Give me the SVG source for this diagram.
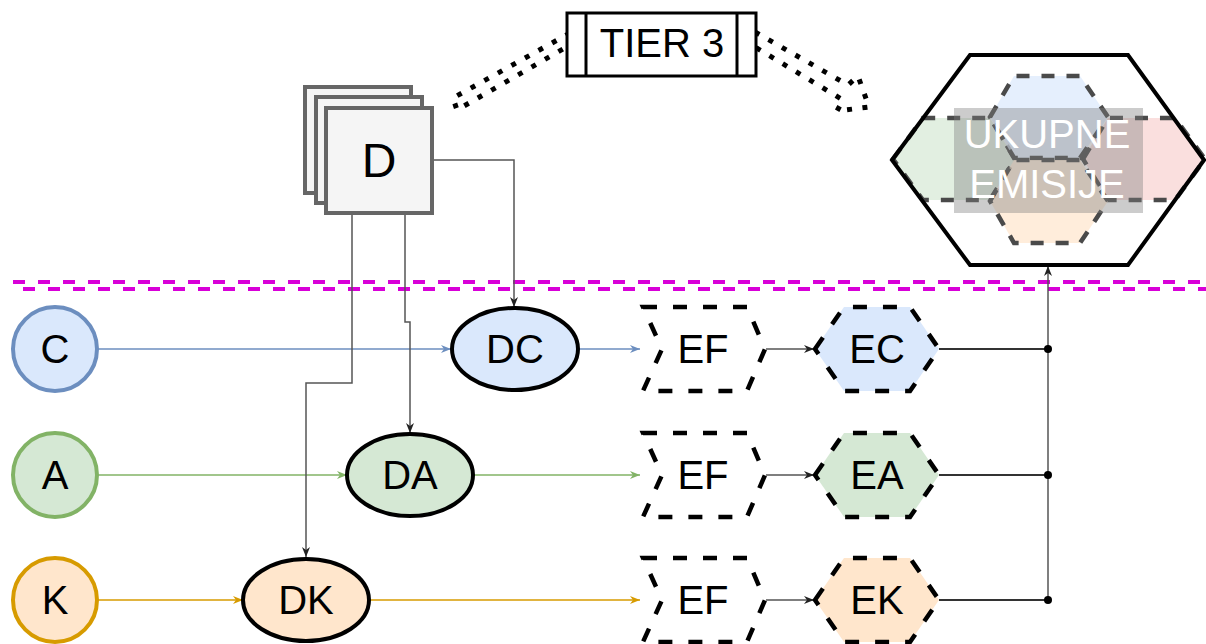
<svg xmlns="http://www.w3.org/2000/svg" width="1206" height="644" viewBox="0 0 1206 644">
<defs>
<style>
text{font-family:"Liberation Sans",Arial,sans-serif;font-size:40px;text-anchor:middle;fill:#000}
.src{stroke-width:4}
.ell{stroke:#000;stroke-width:4}
.dash{fill:none;stroke:#000;stroke-width:4.5;stroke-dasharray:14 16}
.hex{stroke:#000;stroke-width:4.5;stroke-dasharray:14 16}
.ihex{stroke:#4a4a4a;stroke-width:4.5;stroke-dasharray:13 12}
.mag{stroke:#d800d8;stroke-width:4;stroke-dasharray:12 13;fill:none}
.dot{fill:none;stroke:#000;stroke-width:5;stroke-dasharray:5 10.5}
.gc{fill:none;stroke:#555;stroke-width:1.5}
.dk{fill:none;stroke:#333;stroke-width:2}
</style>
<marker id="mb" viewBox="0 0 10 10" refX="10" refY="5" markerWidth="10" markerHeight="10" markerUnits="userSpaceOnUse" orient="auto"><path d="M0,1 L10,5 L0,9 L3,5 z" fill="#6c8ebf"/></marker>
<marker id="mg" viewBox="0 0 10 10" refX="10" refY="5" markerWidth="10" markerHeight="10" markerUnits="userSpaceOnUse" orient="auto"><path d="M0,1 L10,5 L0,9 L3,5 z" fill="#82b366"/></marker>
<marker id="mo" viewBox="0 0 10 10" refX="10" refY="5" markerWidth="10" markerHeight="10" markerUnits="userSpaceOnUse" orient="auto"><path d="M0,1 L10,5 L0,9 L3,5 z" fill="#d79b00"/></marker>
<marker id="mk" viewBox="0 0 10 10" refX="10" refY="5" markerWidth="10" markerHeight="10" markerUnits="userSpaceOnUse" orient="auto"><path d="M0,1 L10,5 L0,9 L3,5 z" fill="#222"/></marker>
</defs>

<g id="divider">
<line class="mag" x1="13" y1="282" x2="1206" y2="282"/>
<line class="mag" x1="23" y1="289" x2="1206" y2="289"/>
</g>

<g id="tier3-arrow">
<path class="dot" d="M570,33 L453,98 L457,110 L570,45"/>
<path class="dot" d="M755,32 L848,85 L858,76 L869,107 L837,111 L843,100 L755,47"/>
</g>

<g id="connectors">
<line x1="97" y1="349" x2="451" y2="349" stroke="#6c8ebf" stroke-width="1.5" marker-end="url(#mb)"/>
<line x1="579" y1="349" x2="640" y2="349" stroke="#6c8ebf" stroke-width="1.5" marker-end="url(#mb)"/>
<line x1="97" y1="475" x2="347" y2="475" stroke="#82b366" stroke-width="1.5" marker-end="url(#mg)"/>
<line x1="474" y1="475" x2="640" y2="475" stroke="#82b366" stroke-width="1.5" marker-end="url(#mg)"/>
<line x1="97" y1="600" x2="243" y2="600" stroke="#d79b00" stroke-width="1.5" marker-end="url(#mo)"/>
<line x1="370" y1="600" x2="640" y2="600" stroke="#d79b00" stroke-width="1.5" marker-end="url(#mo)"/>
<path class="gc" d="M432,160 H514 V307" marker-end="url(#mk)"/>
<path class="gc" d="M352,213 V383 H306 V557" marker-end="url(#mk)"/>
<path class="gc" d="M405,213 V322 H410 V433" marker-end="url(#mk)"/>
<line class="gc" x1="766" y1="349" x2="814" y2="349" marker-end="url(#mk)"/>
<line class="gc" x1="766" y1="475" x2="814" y2="475" marker-end="url(#mk)"/>
<line class="gc" x1="766" y1="600" x2="814" y2="600" marker-end="url(#mk)"/>
<line class="dk" x1="939" y1="349" x2="1048" y2="349"/>
<line class="dk" x1="939" y1="475" x2="1048" y2="475"/>
<line class="dk" x1="939" y1="600" x2="1048" y2="600"/>
<path class="gc" d="M1048,600 V266" marker-end="url(#mk)"/>
<circle cx="1048" cy="349" r="4" fill="#000"/>
<circle cx="1048" cy="475" r="4" fill="#000"/>
<circle cx="1048" cy="600" r="4" fill="#000"/>
</g>

<g id="tier3">
<rect x="567" y="13" width="189" height="63" fill="#fff" stroke="#000" stroke-width="3"/>
<line x1="586" y1="13" x2="586" y2="76" stroke="#000" stroke-width="3"/>
<line x1="737" y1="13" x2="737" y2="76" stroke="#000" stroke-width="3"/>
<text x="662" y="57">TIER 3</text>
</g>

<g id="D">
<rect x="305" y="87" width="106" height="106" fill="#f5f5f5" stroke="#666" stroke-width="4"/>
<rect x="316" y="97" width="106" height="106" fill="#f5f5f5" stroke="#666" stroke-width="4"/>
<rect x="326" y="108" width="106" height="105" fill="#f5f5f5" stroke="#666" stroke-width="4"/>
<text x="379" y="177" style="font-size:48px">D</text>
</g>

<g id="C"><ellipse class="src" cx="55" cy="349" rx="42" ry="42" fill="#dae8fc" stroke="#6c8ebf"/><text x="55" y="363">C</text></g>
<g id="A"><ellipse class="src" cx="55" cy="475" rx="42" ry="42" fill="#d5e8d4" stroke="#82b366"/><text x="55" y="489">A</text></g>
<g id="K"><ellipse class="src" cx="55" cy="600" rx="42" ry="42" fill="#ffe6cc" stroke="#d79b00"/><text x="55" y="614">K</text></g>

<g id="DC"><ellipse class="ell" cx="515" cy="349" rx="63" ry="41" fill="#dae8fc"/><text x="515" y="363">DC</text></g>
<g id="DA"><ellipse class="ell" cx="410" cy="475" rx="63" ry="41" fill="#d5e8d4"/><text x="410" y="489">DA</text></g>
<g id="DK"><ellipse class="ell" cx="306" cy="600" rx="63" ry="41" fill="#ffe6cc"/><text x="306" y="614">DK</text></g>

<g id="EF1"><path class="dash" d="M643,307 H747 L765,349 L747,391 H643 L662,349 Z" fill="#fff"/><text x="703" y="363">EF</text></g>
<g id="EF2"><path class="dash" d="M643,433 H747 L765,475 L747,517 H643 L662,475 Z" fill="#fff"/><text x="703" y="489">EF</text></g>
<g id="EF3"><path class="dash" d="M643,558 H747 L765,600 L747,642 H643 L662,600 Z" fill="#fff"/><text x="703" y="614">EF</text></g>

<g id="EC"><path class="hex" d="M815,349 L844,307 H910 L939,349 L910,391 H844 Z" fill="#dae8fc"/><text x="877" y="363">EC</text></g>
<g id="EA"><path class="hex" d="M815,475 L844,433 H910 L939,475 L910,517 H844 Z" fill="#d5e8d4"/><text x="877" y="489">EA</text></g>
<g id="EK"><path class="hex" d="M815,600 L844,558 H910 L939,600 L910,642 H844 Z" fill="#ffe6cc"/><text x="877" y="614">EK</text></g>

<g id="UKUPNE">
<path d="M892,160 L970,55 H1128 L1204,160 L1128,265 H970 Z" fill="#fff"/>
<path class="ihex" d="M893,159 L923,118 H990 L1015,159 L990,200 H923 Z" fill="#d5e8d4" fill-opacity="0.7"/>
<path class="ihex" d="M1083,159 L1108,118 H1175 L1205,159 L1175,200 H1108 Z" fill="#f8cecc" fill-opacity="0.65"/>
<path class="ihex" d="M990,117 L1014,76 H1080 L1108,117 L1080,158 H1014 Z" fill="#dae8fc" fill-opacity="0.7"/>
<path class="ihex" d="M990,201 L1014,160 H1080 L1108,201 L1080,243 H1014 Z" fill="#ffe6cc" fill-opacity="0.7"/>
<rect x="954" y="108" width="189" height="105" fill="#808080" fill-opacity="0.4"/>
<path d="M892,160 L970,55 H1128 L1204,160 L1128,265 H970 Z" fill="none" stroke="#000" stroke-width="4"/>
<text x="1047" y="148" style="fill:#fff">UKUPNE</text>
<text x="1047" y="198" style="fill:#fff">EMISIJE</text>
</g>
</svg>
